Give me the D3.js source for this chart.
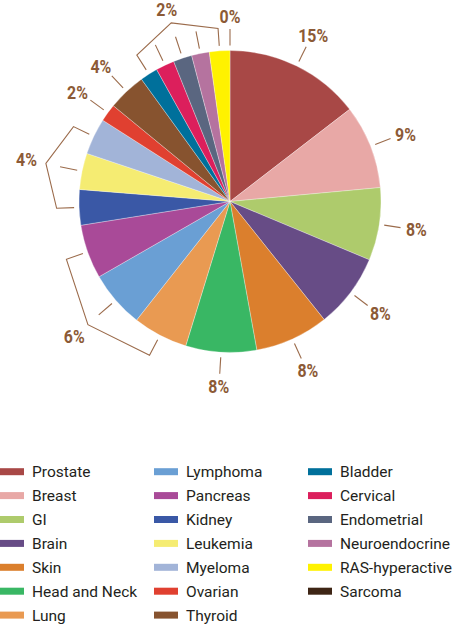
<!DOCTYPE html>
<html>
<head>
<meta charset="utf-8">
<script src="https://cdn.jsdelivr.net/npm/d3@7"></script>
<style>
  html, body { margin: 0; padding: 0; background: #fff; }
  svg { display: block; }
</style>
</head>
<body>
<svg id="chart" width="457" height="625"></svg>
<script>
// Share of trials by cancer type (percent)
const categories = [
  "Prostate", "Breast", "GI", "Brain", "Skin", "Head and Neck", "Lung",
  "Lymphoma", "Pancreas", "Kidney", "Leukemia", "Myeloma", "Ovarian", "Thyroid",
  "Bladder", "Cervical", "Endometrial", "Neuroendocrine", "RAS-hyperactive", "Sarcoma"
];
const shares = [
  14.6, 9.0, 7.8, 8.0, 7.9, 7.6, 5.9,
  6.1, 5.8, 3.8, 3.9, 3.9, 1.9, 4.1,
  1.9, 2.0, 2.0, 1.9, 2.2, 0
];
const colors = [
  "#a84846", "#e8a8a6", "#aecb6c", "#674c86", "#db7f2d", "#39b764", "#e99a52",
  "#6a9fd4", "#a94a98", "#3a58a6", "#f5ec72", "#a2b4d8", "#e04030", "#87532f",
  "#00709b", "#dc1f5c", "#5a6680", "#b5739f", "#fff200", "#3e2515"
];
// Slices that share one percentage label (bracketed when more than one)
const labelGroups = [
  ["Prostate"], ["Breast"], ["GI"], ["Brain"], ["Skin"], ["Head and Neck"],
  ["Lung", "Lymphoma", "Pancreas"],
  ["Kidney", "Leukemia", "Myeloma"],
  ["Ovarian"], ["Thyroid"],
  ["Bladder", "Cervical", "Endometrial", "Neuroendocrine", "RAS-hyperactive"],
  ["Sarcoma"]
];
const legendRows = 7;

const svg = d3.select("#chart");
const cx = 230, cy = 201.5, R = 151;
const labelColor = "#8c5a36", leaderColor = "#9b6b4b";

const data = categories.map((c, i) => ({ name: c, value: shares[i], color: colors[i] }));
const arcs = d3.pie().sort(null).value(d => d.value).startAngle(0).endAngle(2 * Math.PI)(data);
const arcByName = new Map(arcs.map(a => [a.data.name, a]));
const mid = a => (a.startAngle + a.endAngle) / 2;
const pt = (ang, r) => [cx + r * Math.sin(ang), cy - r * Math.cos(ang)];

const g = svg.append("g");
const arcGen = d3.arc().innerRadius(0).outerRadius(R);
g.selectAll("path.slice")
  .data(arcs.filter(a => a.value > 0))
  .join("path")
  .attr("class", "slice")
  .attr("transform", `translate(${cx},${cy})`)
  .attr("d", arcGen)
  .attr("fill", d => d.data.color)
  .attr("stroke", "#ffffff")
  .attr("stroke-opacity", 0.6)
  .attr("stroke-width", 0.5);

// Leader lines, brackets and percentage labels
const rIn = 156, rOut = 173.5, rApex = 188;
const line = d3.line();
const stroke = sel => sel.attr("fill", "none").attr("stroke", leaderColor).attr("stroke-width", 1.1);
labelGroups.forEach(group => {
  const members = group.map(n => arcByName.get(n));
  const pct = Math.round(d3.mean(members, m => m.data.value)) + "%";
  let lx, ly;
  if (members.length === 1) {
    const ang = mid(members[0]);
    const a = pt(ang, rIn), b = pt(ang, rOut - 1);
    g.append("path").attr("d", line([a, b])).call(stroke);
    lx = b[0] + Math.sin(ang) * 16;
    ly = b[1] - Math.cos(ang) * 12.5;
  } else {
    const a0 = mid(members[0]), a1 = mid(members[members.length - 1]);
    const ang = (a0 + a1) / 2;
    const apex = pt(ang, rApex);
    g.append("path")
      .attr("d", line([pt(a0, rIn), pt(a0, rOut), apex, pt(a1, rOut), pt(a1, rIn)]))
      .call(stroke);
    members.slice(1, -1).forEach(m => {
      g.append("path").attr("d", line([pt(mid(m), rIn), pt(mid(m), rOut)])).call(stroke);
    });
    const d = 12 + 8 * Math.abs(Math.sin(ang));
    lx = apex[0] + Math.sin(ang) * d;
    ly = apex[1] - Math.cos(ang) * d;
  }
  g.append("text")
    .attr("transform", `translate(${lx},${ly}) scale(0.86,1)`)
    .attr("dy", "0.36em")
    .attr("text-anchor", "middle")
    .attr("font-family", "Roboto, 'DejaVu Sans', sans-serif")
    .attr("font-weight", 700)
    .attr("font-size", "18.5px")
    .attr("fill", labelColor)
    .text(pct);
});

// Legend: column-major, seven rows
const colX = [0, 154, 308], rowY0 = 471.7, rowStep = 23.9;
const legend = svg.append("g");
data.forEach((d, i) => {
  const col = Math.floor(i / legendRows), row = i % legendRows;
  const x = colX[col], y = rowY0 + row * rowStep;
  legend.append("rect")
    .attr("x", x).attr("y", y - 3.5).attr("width", 24).attr("height", 7)
    .attr("fill", d.color);
  legend.append("text")
    .attr("x", x + 32).attr("y", y)
    .attr("dy", "0.36em")
    .attr("font-family", "Roboto, 'DejaVu Sans', sans-serif")
    .attr("font-size", "15.5px")
    .attr("fill", "#231f20")
    .text(d.name);
});
</script>
</body>
</html>
